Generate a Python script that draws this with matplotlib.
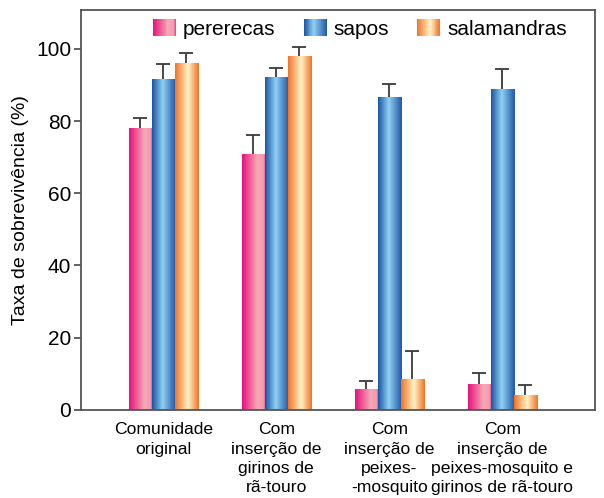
import numpy as np
import matplotlib
matplotlib.use('Agg')
from matplotlib import pyplot as plt
from matplotlib.colors import LinearSegmentedColormap
from matplotlib.patches import Rectangle
from matplotlib.legend_handler import HandlerBase

plt.rcParams['font.family'] = ['Liberation Sans', 'DejaVu Sans']

grupos = ['Comunidade\noriginal',
          'Com\ninserção de\ngirinos de\nrã-touro',
          'Com\ninserção de\npeixes-\n-mosquito',
          'Com\ninserção de\npeixes-mosquito e\ngirinos de rã-touro']
especies = ['pererecas', 'sapos', 'salamandras']
pererecas = [78, 70.9, 5.8, 7.2]
sapos = [91.7, 92.2, 86.7, 88.9]
salamandras = [96.2, 98, 8.6, 4.2]
err_pererecas = [3.0, 5.3, 2.3, 3.0]
err_sapos = [4.1, 2.4, 3.6, 5.6]
err_salamandras = [2.8, 2.4, 7.6, 2.7]

valores = [pererecas, sapos, salamandras]
erros = [err_pererecas, err_sapos, err_salamandras]

# gradient maps for each species
cmaps = [
    LinearSegmentedColormap.from_list('pink', [(0, '#e8117f'), (0.65, '#f5a9b3'), (0.9, '#f39bb0'), (1, '#ea3a8c')]),
    LinearSegmentedColormap.from_list('blue', [(0, '#1b56a4'), (0.45, '#8fd0f2'), (1, '#2257a5')]),
    LinearSegmentedColormap.from_list('orange', [(0, '#f37328'), (0.55, '#fff3c6'), (1, '#f27328')]),
]
grad = np.linspace(0, 1, 64).reshape(1, -1)

fig = plt.figure(figsize=(6.04, 4.98), dpi=100)
ax = fig.add_axes([0.134, 0.177, 0.851, 0.803])

x = np.arange(len(grupos))
w = 0.204
for i in range(3):
    pos = x + (i - 1) * w
    bars = ax.bar(pos, valores[i], w, color='none', edgecolor='none', zorder=2)
    for b in bars:
        im = ax.imshow(grad, cmap=cmaps[i], aspect='auto', zorder=2,
                       extent=[b.get_x(), b.get_x() + b.get_width(), 0, b.get_height()])
        im.set_clip_path(b)
    topo = np.array(valores[i]) + np.array(erros[i])
    ax.errorbar(pos, valores[i], yerr=[np.zeros(len(x)), erros[i]], fmt='none',
                ecolor='#3a3a3a', elinewidth=1.3, capsize=0, zorder=3)
    ax.plot(pos, topo, linestyle='none', marker='_', markersize=10, markeredgewidth=1.3,
            color='#3a3a3a', zorder=3)

ax.set_xlim(-0.73, 3.82)
ax.set_ylim(0, 110.8)
ax.set_yticks([0, 20, 40, 60, 80, 100])
ax.set_xticks(x)
ax.set_xticklabels(grupos, fontsize=12.6, linespacing=1.36)
ax.tick_params(axis='x', length=0, pad=9)
ax.tick_params(axis='y', length=5, width=1.3, color='#555555', labelsize=15, pad=2)
for s in ax.spines.values():
    s.set_color('#555555')
    s.set_linewidth(1.3)
ax.set_ylabel('Taxa de sobrevivência (%)', fontsize=14, labelpad=5)


class GradHandler(HandlerBase):
    def __init__(self, cmap):
        super().__init__()
        self.cmap = cmap

    def create_artists(self, legend, orig_handle, xdescent, ydescent, width, height, fontsize, trans):
        n = 24
        arts = []
        for k in range(n):
            r = Rectangle((-xdescent + width * k / n, -ydescent), width / n * 1.05, height,
                          facecolor=self.cmap((k + 0.5) / n), edgecolor='none', transform=trans)
            arts.append(r)
        return arts


handles = [Rectangle((0, 0), 1, 1) for _ in especies]
ax.legend(handles, especies, handler_map={h: GradHandler(c) for h, c in zip(handles, cmaps)},
          loc='center', bbox_to_anchor=(0.543, 0.952), ncol=3, frameon=False, fontsize=15,
          handlelength=1.1, handleheight=0.82, handletextpad=0.34, columnspacing=1.35, borderpad=0)

fig.savefig('out.png', dpi=100)
